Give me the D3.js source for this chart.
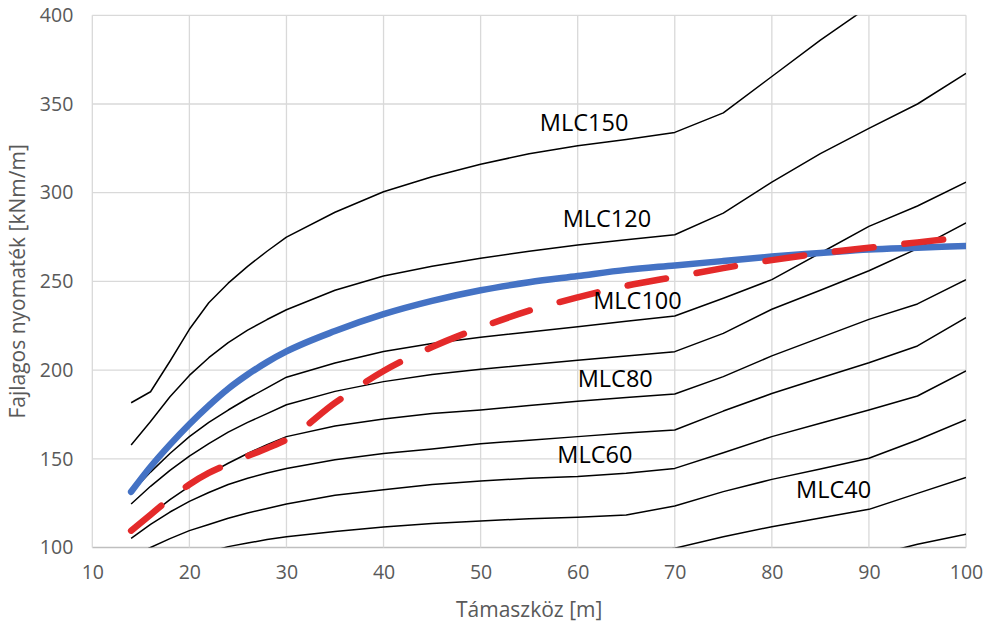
<!DOCTYPE html>
<html>
<head>
<meta charset="utf-8">
<script src="https://cdn.jsdelivr.net/npm/d3@7"></script>
<style>
  html, body { margin: 0; padding: 0; background: #ffffff; }
  svg { display: block; }
</style>
</head>
<body>
<svg id="chart" width="988" height="626"></svg>
<script>
// ---------------- DATA ----------------
const spans = [14,16,18,20,22,24,26,28,30,35,40,45,50,55,60,65,70,75,80,85,90,95,100];

const mlc150 = [181.6,187.8,205,223,238,249,258.5,267,275,289,300.5,309,316,322,326.5,330,334,345,365.5,386,405,425,445];
const mlc120 = [157.8,171,185,197,207,215.5,222.5,228.5,234,245,253,258.5,263,267,270.5,273.5,276.3,288.5,306,322,336.3,350,367.3];
const mlc100 = [131,142.5,153,162.5,170.5,177.5,184,190,196,204,210.5,215,218.5,221.5,224.5,227.5,230.5,240.5,251,266,281,292.5,306];
const mlc90  = [124.5,134.5,143.5,151.5,158.5,165,170.5,175.5,180.5,188,193.5,197.5,200.5,203,205.5,208,210.4,220.7,234.3,245,256,268.5,283];
const mlc80  = [109.5,118.5,127,134.5,141.5,147.5,153,158,162.5,168.5,172.5,175.5,177.5,180,182.5,184.5,186.5,196.3,208,218.3,228.6,237.3,251];
const mlc70  = [105.2,113,120,126,131,135.5,139,142,144.5,149.5,153,155.5,158.5,160.5,162.5,164.5,166.2,176.9,186.8,195.5,204.1,213.6,229.6];
const mlc60  = [95,100,105,109.5,113,116.5,119.5,122,124.5,129.5,132.5,135.5,137.5,139,140,141.8,144.6,153.4,162.5,170,177.5,185.4,199.6];
const mlc50  = [80,85,90,94,97.5,100.5,102.5,104.5,106,109,111.5,113.5,115,116.2,117,118.3,123.4,131.5,138.4,144.3,150.3,160.6,172];
const mlc40  = [64,68,72,75,78,80.5,82,83.5,85,87,89,91,92,93,93.8,94.6,99.6,106.1,111.7,116.6,121.5,130.5,139.5];
const mlc30  = [48,51,54,56,58.5,60.5,61.5,62.5,63.5,65.5,67,68,69,70,70.5,71,75,80,84,88,95,101.8,107.5];

const blueSeries = [131.4,145.5,158,169.5,180,189.5,197.5,204.5,210.5,222,231.5,239,245,249.5,253,256.5,259,261.5,264,266,268,269,270];
const redSeries  = [109.5,118.5,127.5,135.5,142,147,151.5,156,160.8,181.5,199.5,213,224,233.5,241,247.5,252.5,257.5,262,265.8,269,272,275];

const curveNames = ["MLC150","MLC120","MLC100","MLC80","MLC60","MLC40"];
const curveLabelX = [56.1, 58.45, 61.6, 60.0, 57.9, 82.5];   // data units (left of text)
const curveLabelY = [334.8, 280.8, 234.3, 190.3, 147.5, 127.7]; // data units (baseline)

const xTicks = [10,20,30,40,50,60,70,80,90,100];
const yTicks = [100,150,200,250,300,350,400];

const xTitle = "Támaszköz [m]";
const yTitle = "Fajlagos nyomaték [kNm/m]";

// ---------------- CHART ----------------
(function draw() {
const svg = d3.select("#chart");
const pLeft = 92.3, pRight = 966, pTop = 15.3, pBottom = 547.5;

const x = d3.scaleLinear().domain([10, 100]).range([pLeft, pRight]);
const y = d3.scaleLinear().domain([100, 400]).range([pBottom, pTop]);

const font = "'Open Sans', 'Noto Sans', sans-serif";

// gridlines
const grid = svg.append("g");
grid.selectAll("line.h").data(yTicks).join("line")
  .attr("x1", pLeft).attr("x2", pRight)
  .attr("y1", d => y(d)).attr("y2", d => y(d))
  .attr("stroke", d => d === 100 ? "#bfbfbf" : "#d9d9d9").attr("stroke-width", 1.3);
grid.selectAll("line.v").data(xTicks).join("line")
  .attr("y1", pTop).attr("y2", pBottom)
  .attr("x1", d => x(d)).attr("x2", d => x(d))
  .attr("stroke", "#d9d9d9").attr("stroke-width", 1.3);

// axes (text only)
const xAxis = svg.append("g").attr("transform", `translate(0,${pBottom})`)
  .call(d3.axisBottom(x).tickValues(xTicks).tickSize(0).tickPadding(18));
const yAxis = svg.append("g").attr("transform", `translate(${pLeft},0)`)
  .call(d3.axisLeft(y).tickValues(yTicks).tickSize(0).tickPadding(19));
[xAxis, yAxis].forEach(a => {
  a.select(".domain").remove();
  a.selectAll("text").attr("font-family", font).attr("font-size", 19.5).attr("fill", "#595959");
});

// clip
svg.append("clipPath").attr("id", "plotclip").append("rect")
  .attr("x", pLeft).attr("y", pTop).attr("width", pRight - pLeft).attr("height", pBottom - pTop);

const plot = svg.append("g").attr("clip-path", "url(#plotclip)");

const lineLinear = d3.line().x(d => x(d[0])).y(d => y(d[1]));
const lineSmooth = d3.line().curve(d3.curveMonotoneX).x(d => x(d[0])).y(d => y(d[1]));

const blackSeries = [mlc150, mlc120, mlc100, mlc90, mlc80, mlc70, mlc60, mlc50, mlc40, mlc30];
blackSeries.forEach(vals => {
  plot.append("path")
    .datum(spans.map((s, i) => [s, vals[i]]))
    .attr("d", lineLinear)
    .attr("fill", "none").attr("stroke", "#000").attr("stroke-width", 1.5)
    .attr("stroke-linejoin", "round");
});

plot.append("path")
  .datum(spans.map((s, i) => [s, blueSeries[i]]))
  .attr("d", lineSmooth)
  .attr("fill", "none").attr("stroke", "#4472C4").attr("stroke-width", 6.5)
  .attr("stroke-linecap", "round").attr("stroke-linejoin", "round");

plot.append("path")
  .datum(spans.map((s, i) => [s, redSeries[i]]))
  .attr("d", lineSmooth)
  .attr("fill", "none").attr("stroke", "#E42A2A").attr("stroke-width", 6.5)
  .attr("stroke-dasharray", "39,31")
  .attr("stroke-linecap", "round").attr("stroke-linejoin", "round");

// curve labels
svg.append("g").selectAll("text").data(curveNames).join("text")
  .attr("x", (d, i) => x(curveLabelX[i]))
  .attr("y", (d, i) => y(curveLabelY[i]))
  .attr("font-family", font).attr("font-size", 23.5).attr("fill", "#000")
  .text(d => d);

// axis titles
svg.append("text")
  .attr("x", (pLeft + pRight) / 2).attr("y", 617)
  .attr("text-anchor", "middle")
  .attr("font-family", font).attr("font-size", 21).attr("fill", "#595959")
  .text(xTitle);

svg.append("text")
  .attr("transform", `translate(25,${(pTop + pBottom) / 2}) rotate(-90)`)
  .attr("text-anchor", "middle")
  .attr("font-family", font).attr("font-size", 21).attr("fill", "#595959")
  .text(yTitle);
})();
</script>
</body>
</html>
